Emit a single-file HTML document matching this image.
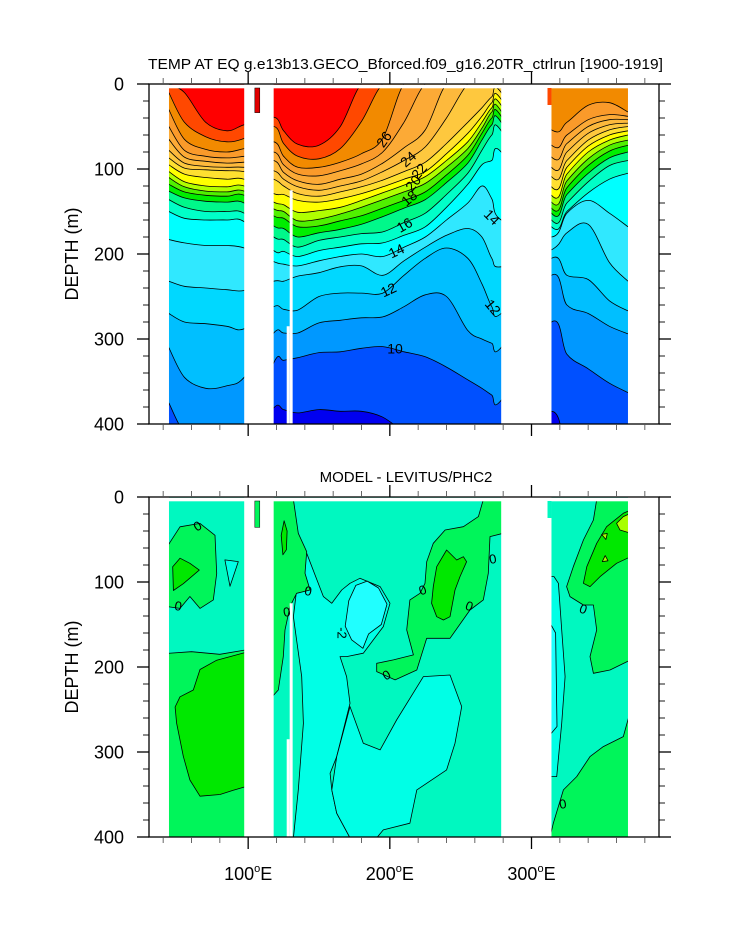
<!DOCTYPE html>
<html><head><meta charset="utf-8"><style>
html,body{margin:0;padding:0;background:#fff;}
svg{display:block;font-family:"Liberation Sans",sans-serif;}
</style></head><body>
<svg id="chart" width="733" height="945" viewBox="0 0 733 945" xmlns="http://www.w3.org/2000/svg">
<defs>
<clipPath id="clipT"><rect x="149" y="84" width="510" height="340"/></clipPath>
<clipPath id="clipB"><rect x="149" y="497" width="510" height="340"/></clipPath>
</defs>
<text x="148" y="69" font-size="15" textLength="515" lengthAdjust="spacingAndGlyphs">TEMP AT EQ g.e13b13.GECO_Bforced.f09_g16.20TR_ctrlrun [1900-1919]</text>
<text x="406" y="482" font-size="15" text-anchor="middle">MODEL - LEVITUS/PHC2</text>
<g id="topPlot"></g>
<g id="botPlot"></g>
<g id="axes"></g>
</svg>
<script>
// ---------- data ----------
const lons = [44,55,70,85,97.2, 118,125,135,150,165,180,195,210,225,240,255,265,272,278.6, 314.1,325,340,355,368.1];
const levels = [28,27,26,25,24,23,22,21,20,19,18,17,16,15,14,13,12,11,10,9];
const t28=[0,10,45,55,48, 39,55,71,72,50,0,0,0,0,0,0,0,0,0, 0,0,0,0,0];
const t27=[10,45,62,68,64, 50,70,85,88,76,44,0,0,0,0,0,0,0,0, 0,0,0,0,0];
const t26=[30,65,77,80,76, 68,85,98,98,92,82,64,0,0,0,0,0,0,0, 54,45,25,22,33];
const t25=[50,78,85,87,85, 80,95,106,108,102,94,80,45,0,0,0,0,0,0, 72,60,42,36,38];
const t24=[65,86,91,93,92, 90,104,114,118,112,106,93,75,54,0,0,0,0,0, 86,70,50,42,42];
const t23=[78,93,97,98,98, 102,112,121,125,120,114,103,90,74,40,0,0,0,0, 98,80,58,48,46];
const t22=[87,99,101,102,103, 112,120,129,132,127,121,113,103,92,70,45,28,15,10, 109,90,66,54,50];
const t21=[95,106,110,112,112, 129,130,137,139,135,129,121,112,103,82,58,38,22,18, 121,98,73,60,55];
const t20=[103,115,120,121,120, 139,142,151,149,145,137,128,119,109,90,68,45,28,25, 131,106,80,66,60];
const t19=[110,121,126,127,126, 147,150,161,159,153,145,136,127,117,98,76,52,33,32, 139,114,88,72,66];
const t18=[118,127,131,132,131, 155,158,168,167,161,155,146,137,127,107,84,58,40,38, 146,122,96,79,72];
const t17=[126,134,138,139,140, 167,170,180,175,171,165,156,146,136,116,93,66,48,45, 152,130,105,87,80];
const t16=[136,145,150,150,152, 180,183,192,184,180,176,174,163,152,130,105,78,60,55, 160,140,115,96,90];
const t15=[150,158,160,160,162, 196,197,203,196,192,188,187,178,168,145,118,95,90,80, 168,150,128,112,105];
const t14=[183,187,190,190,193, 209,212,214,208,203,200,203,192,180,160,140,120,135,160, 180,152,137,152,168];
const t13=[232,238,240,242,243, 232,232,226,222,215,214,225,208,192,178,170,180,205,215, 195,175,165,210,232];
const t12=[270,280,282,285,288, 262,265,266,250,246,246,246,225,205,193,205,235,262,270, 205,225,230,255,267];
const t11=[310,345,358,355,345, 293,293,293,281,278,275,274,262,248,250,290,300,305,310, 225,260,270,285,294];
const t10=[375,410,420,420,420, 328,325,322,316,315,311,309,315,321,333,348,358,366,372, 280,318,335,352,363];
const t9 =[430,430,430,430,430, 381,383,387,383,385,385,392,410,430,430,430,430,430,430, 385,430,430,430,430];
const isoDepths=[t28,t27,t26,t25,t24,t23,t22,t21,t20,t19,t18,t17,t16,t15,t14,t13,t12,t11,t10,t9];
const bandColors={29:'#ff0000',28:'#ff4800',27:'#f28a00',26:'#fa9a2a',25:'#fcaa36',24:'#fdb93c',23:'#fec83e',22:'#ffe030',21:'#ffff00',20:'#b0ff00',19:'#50f000',18:'#00ee00',17:'#00f88a',16:'#00ffc8',15:'#00ffff',14:'#30e8ff',13:'#00d8ff',12:'#00bfff',11:'#0098ff',10:'#0050ff',9:'#0000f0'};
const maskFull=[[20,44.1],[97.2,118],[278.6,314.1],[368.1,400]];
const maskPartial=[[127.2,129.3,285],[129.3,131.4,125]];
const diffBase='#00f8c0';
const regC1a=[[134.2,50.6],[141.3,66.2],[153.1,117.2],[159,125],[166,109.4],[171.9,101.5],[178.9,95.6],[193.1,105.4],[200.1,125],[195.4,152.5],[181.3,183.8],[169.5,187.8],[164.8,187.8],[169.5,211.3],[171.9,242.7],[162.5,305.4],[157.8,325],[159,344.6],[162.5,372],[171.9,401],[131.9,401],[135.4,344.6],[139,266.2],[137.8,211.3],[134.2,168.2],[131.9,140.8],[134.2,109.4]];
const regC1b=[[171.9,246.6],[181.3,289.7],[193.1,297.5],[204.8,262.3],[223.7,211.3],[242.5,209.4],[250.7,246.6],[246,289.7],[240.1,321.1],[219,344.6],[214.2,383.8],[195.4,391.6],[190.7,401],[171.9,401],[162.5,372],[159,344.6],[162.5,305.4]];
const regC2=[[171,122],[176,104],[184,99],[192,107],[198,126],[194,150],[185,161],[181,178],[173,168],[168.5,152]];
const regML=[[117,3],[131.9,3],[135.4,42.7],[141.3,64.3],[140.1,89.8],[143.7,109.4],[134.2,113.3],[129.5,129],[126,156.4],[124.8,187.8],[121.3,227],[117,234.8]];
const regMLd=[[125.4,28],[127.5,40],[127,62],[124.5,68],[123.3,45]];
const regG1=[[226,76.1],[230.7,54.5],[239,38.8],[251.9,34.9],[262.5,23.1],[266,3],[280,3],[280,42.7],[270.7,46.6],[269.5,89.8],[266,121.1],[256.6,132.9],[242.5,166.2],[226,166.2],[219,203.5],[203.7,215.2],[190.7,205.4],[190.7,195.6],[202.5,191.7],[216.6,185.8],[211.9,156.4],[214.2,121.1],[221.3,113.3],[224.8,101.5]];
const regG2=[[230.7,105.4],[233.1,82],[240.1,62.3],[247.2,74.1],[251.9,70.2],[254.2,76.1],[249.5,93.7],[246,109.4],[242.5,140.8],[237.8,144.7],[233.1,140.8],[229.5,125]];
const regWA=[[43,58],[51.9,35],[66,31],[76.6,45],[77.8,90],[75.4,121],[66,131],[58.9,117],[51.9,131],[43,129]];
const regWA2=[[46.7,82],[51.9,72],[58.9,78],[65.5,86],[61.3,92],[54.2,102],[47.2,110]];
const regWB=[[43,184],[60,182],[80,185],[98,180],[98,401],[43,401]];
const regWB2=[[48.4,247],[51.9,235],[61.3,227],[66,203],[77.8,192],[98,183],[98,341],[89.5,345],[80.1,350],[66,352],[58.9,333],[54.2,305],[49.5,266]];
const regWC=[[83.6,74],[93,76],[87.2,105]];
const regRG1=[[346,3],[370,3],[370,191.7],[355.4,203.5],[343.7,207.4],[341.3,187.8],[346,156.4],[343.7,127],[336.6,127],[327.2,117.2],[324.8,105.4],[329.5,82],[336.6,50.6],[343.7,27]];
const regRG2=[[336.6,101.5],[339,82],[346,54.5],[353,34.9],[364.8,19.2],[370,15.3],[370,70.2],[360.1,78],[348.4,93.7],[341.3,105.4]];
const regRG3=[[360.1,31],[364.8,23.1],[370,19.2],[370,42.7],[362.5,38.8]];
const regRY1=[[349.5,44],[353.5,43],[352.5,50]];
const regRY2=[[350,76],[354,75],[352,69]];
const regRL=[[313,401],[315.4,383.8],[322.5,344.6],[331.9,329],[341.3,305.4],[350.7,293.6],[364.8,281.9],[370,250.5],[370,401]];
const regRC1=[[313,93.7],[315.9,93.7],[319,101.5],[321.3,156.4],[323.7,211.3],[321.3,266.2],[317.8,329],[313,329]];
const regRC2=[[313,148],[317,160],[318,270],[313,280]];
const diffRegions=[
 ['c1',regC1a,'#00ffe6'],['c1',regC1b,'#00ffe6'],['c2',regC2,'#20ffff'],
 ['g1',regML,'#00f55a'],['g2',regMLd,'#00e800'],
 ['g1',regG1,'#00f55a'],['g2',regG2,'#00e800'],
 ['g1',regWA,'#00f55a'],['g2',regWA2,'#00e800'],['c1',regWC,'#00ffe6'],
 ['g1',regWB,'#00f55a'],['g2',regWB2,'#00e800'],
 ['g1',regRG1,'#00f55a'],['g2',regRG2,'#00e800'],['g3',regRG3,'#a8ff00'],['g3',regRY1,'#a8ff00'],['g3',regRY2,'#a8ff00'],
 ['g1',regRL,'#00f55a'],['c1',regRC1,'#00ffe6'],['c2',regRC2,'#20ffff']
];
const yTickLabels=[0,100,200,300,400];
const xTickLabels=[100,200,300];

// ---------- axes ----------
const LON0=30, LON1=390, X0=149, X1=659;
function xs(lon){return X0+(lon-LON0)*(X1-X0)/(LON1-LON0);}
function ysT(d){return 84+d*0.85;}
function ysB(d){return 497+d*0.85;}
const NS='http://www.w3.org/2000/svg';
function mk(tag,attrs,parent){const e=document.createElementNS(NS,tag);for(const k in attrs)e.setAttribute(k,attrs[k]);parent.appendChild(e);return e;}
function smooth(pts){
  let d='M'+pts[0][0].toFixed(1)+','+pts[0][1].toFixed(1);
  for(let i=0;i<pts.length-1;i++){
    const p0=pts[i-1]||pts[i],p1=pts[i],p2=pts[i+1],p3=pts[i+2]||p2;
    const c1=[p1[0]+(p2[0]-p0[0])/6,p1[1]+(p2[1]-p0[1])/6];
    const c2=[p2[0]-(p3[0]-p1[0])/6,p2[1]-(p3[1]-p1[1])/6];
    d+='C'+c1[0].toFixed(1)+','+c1[1].toFixed(1)+' '+c2[0].toFixed(1)+','+c2[1].toFixed(1)+' '+p2[0].toFixed(1)+','+p2[1].toFixed(1);
  }
  return d;
}

// ---------- top panel ----------
const topG=document.getElementById('topPlot');
const gT=mk('g',{'clip-path':'url(#clipT)'},topG);
const bgT=mk('rect',{x:xs(40),y:ysT(0),width:xs(380)-xs(40),height:ysT(400)-ysT(0),fill:bandColors[29]},gT);


const xl=xs(40), xr=xs(380);
levels.forEach((L,i)=>{
  const arr=isoDepths[i];
  const pts=[[xl,ysT(arr[0])]].concat(lons.map((lo,j)=>[xs(lo),ysT(arr[j])])).concat([[xr,ysT(arr[arr.length-1])]]);
  const p=mk('path',{d:smooth(pts)+'L'+xr+','+ysT(420)+'L'+xl+','+ysT(420)+'Z',fill:bandColors[L]},gT);
  
  
});
levels.forEach((L,i)=>{
  const arr=isoDepths[i];
  const pts=lons.map((lo,j)=>[xs(lo),ysT(arr[j])]);
  const p=mk('path',{d:smooth(pts),fill:'none',stroke:'#000','stroke-width':0.8},gT);
  
  
});

// ---------- bottom panel ----------
const botG=document.getElementById('botPlot');
const gB=mk('g',{'clip-path':'url(#clipB)'},botG);
const bgB=mk('rect',{x:xs(40),y:ysB(0),width:xs(380)-xs(40),height:340,fill:diffBase},gB);


diffRegions.forEach(r=>{
  const d='M'+r[1].map(p=>xs(p[0]).toFixed(1)+','+ysB(p[1]).toFixed(1)).join('L')+'Z';
  const p=mk('path',{d:d,fill:r[2],stroke:'#000','stroke-width':0.8,'stroke-linejoin':'round'},gB);
  
  
});

// ---------- masks ----------
[[topG,ysT],[botG,ysB]].forEach(([g,ys],k)=>{
  maskFull.forEach(m=>{
    const a0=Math.max(X0+0.7,xs(m[0])), a1=Math.min(X1-0.7,xs(m[1]));
    const r=mk('rect',{x:a0,y:ys(0),width:a1-a0,height:340,fill:'#fff'},g);
    
    
  });
  maskPartial.forEach(m=>{
    const r=mk('rect',{x:xs(m[0]),y:ys(m[2]),width:xs(m[1])-xs(m[0]),height:ys(400)-ys(m[2]),fill:'#fff'},g);
    
    
  });
  const s=mk('rect',{x:X0+0.7,y:ys(0)+0.7,width:X1-X0-1.4,height:3.6,fill:'#fff'},g);
  
  
  const c1=k===0?'#e00000':'#00f55a', c2=k===0?'#ff4800':diffBase;
  const a=mk('rect',{x:xs(104.7),y:ys(4.7),width:xs(108.2)-xs(104.7),height:(k===0?29:31)*0.85,fill:c1,stroke:'#000','stroke-width':0.5},g);
  
  
  const b=mk('rect',{x:xs(311.3),y:ys(4.7),width:xs(314.1)-xs(311.3),height:20*0.85,fill:c2},g);
  
  
});

// contour labels
const topLabels=[['26',385,140,-55],['24',409,160,-42],['22',420,172,-50],['20',414,184,-50],['18',410,199,-40],['16',405,226,-30],['14',397,252,-25],['12',389,291,-25],['10',395,350,0],['14',491,218,45],['12',492,308,50]];
topLabels.forEach(l=>{
  const t=mk('text',{x:l[1],y:l[2],'font-size':14,'text-anchor':'middle','dominant-baseline':'middle',transform:'rotate('+l[3]+' '+l[1]+' '+l[2]+')'},topG);
  t.textContent=l[0];
  
  
});
const botLabels=[['0',198,527,-30],['0',178,607,10],['0',308,592,10],['0',287,613,-10],['0',423,591,-20],['0',469,607,20],['0',493,560,-10],['0',387,676,-30],['-2',341,633,90],['0',583,610,20],['0',563,805,-10]];
botLabels.forEach(l=>{
  const t=mk('text',{x:l[1],y:l[2],'font-size':13,'text-anchor':'middle','dominant-baseline':'middle',transform:'rotate('+l[3]+' '+l[1]+' '+l[2]+')'},botG);
  t.textContent=l[0];
  
  
});

// ---------- frames & ticks ----------
const ax=document.getElementById('axes');
[[84,ysT,'top'],[497,ysB,'bottom']].forEach(([y0,ys,nm])=>{
  const f=mk('rect',{x:X0,y:y0,width:X1-X0,height:340,fill:'none',stroke:'#000','stroke-width':1.3},ax);
  
  
  for(let lo=40;lo<=380;lo+=20){
    const major=lo%100===0, len=major?12:6, x=xs(lo);
    const t1=mk('line',{x1:x,x2:x,y1:y0+340,y2:y0+340+len,stroke:major?'#000':'#555','stroke-width':major?1.3:0.9},ax);
    
    
    const t2=mk('line',{x1:x,x2:x,y1:y0,y2:y0-len,stroke:major?'#000':'#555','stroke-width':major?1.3:0.9},ax);
    
    
  }
  for(let d=0;d<=400;d+=20){
    const major=d%100===0, len=major?12:6, y=ys(d);
    const t1=mk('line',{x1:X0,x2:X0-len,y1:y,y2:y,stroke:'#000','stroke-width':major?1.3:0.9},ax);
    
    
    const t2=mk('line',{x1:X1,x2:X1+len,y1:y,y2:y,stroke:'#000','stroke-width':major?1.3:0.9},ax);
    
    
  }
  yTickLabels.forEach(v=>{
    const t=mk('text',{x:124,y:ys(v)+6.5,'font-size':18,'text-anchor':'end'},ax);
    t.textContent=String(v);
    
    
  });
  const cy=y0+170;
  const yt=mk('text',{x:78,y:cy,'font-size':18,'text-anchor':'middle',transform:'rotate(-90 78 '+cy+')'},ax);
  yt.textContent='DEPTH (m)';
  
  
});
xTickLabels.forEach(v=>{
  const t=mk('text',{x:xs(v),y:880,'font-size':18,'text-anchor':'middle'},ax);
  
  
  t.appendChild(document.createTextNode(String(v)));
  const s=mk('tspan',{'font-size':11,dy:-8},t);
  s.textContent='o';
  const e=mk('tspan',{dy:8},t);
  e.textContent='E';
});
</script>
</body></html>
